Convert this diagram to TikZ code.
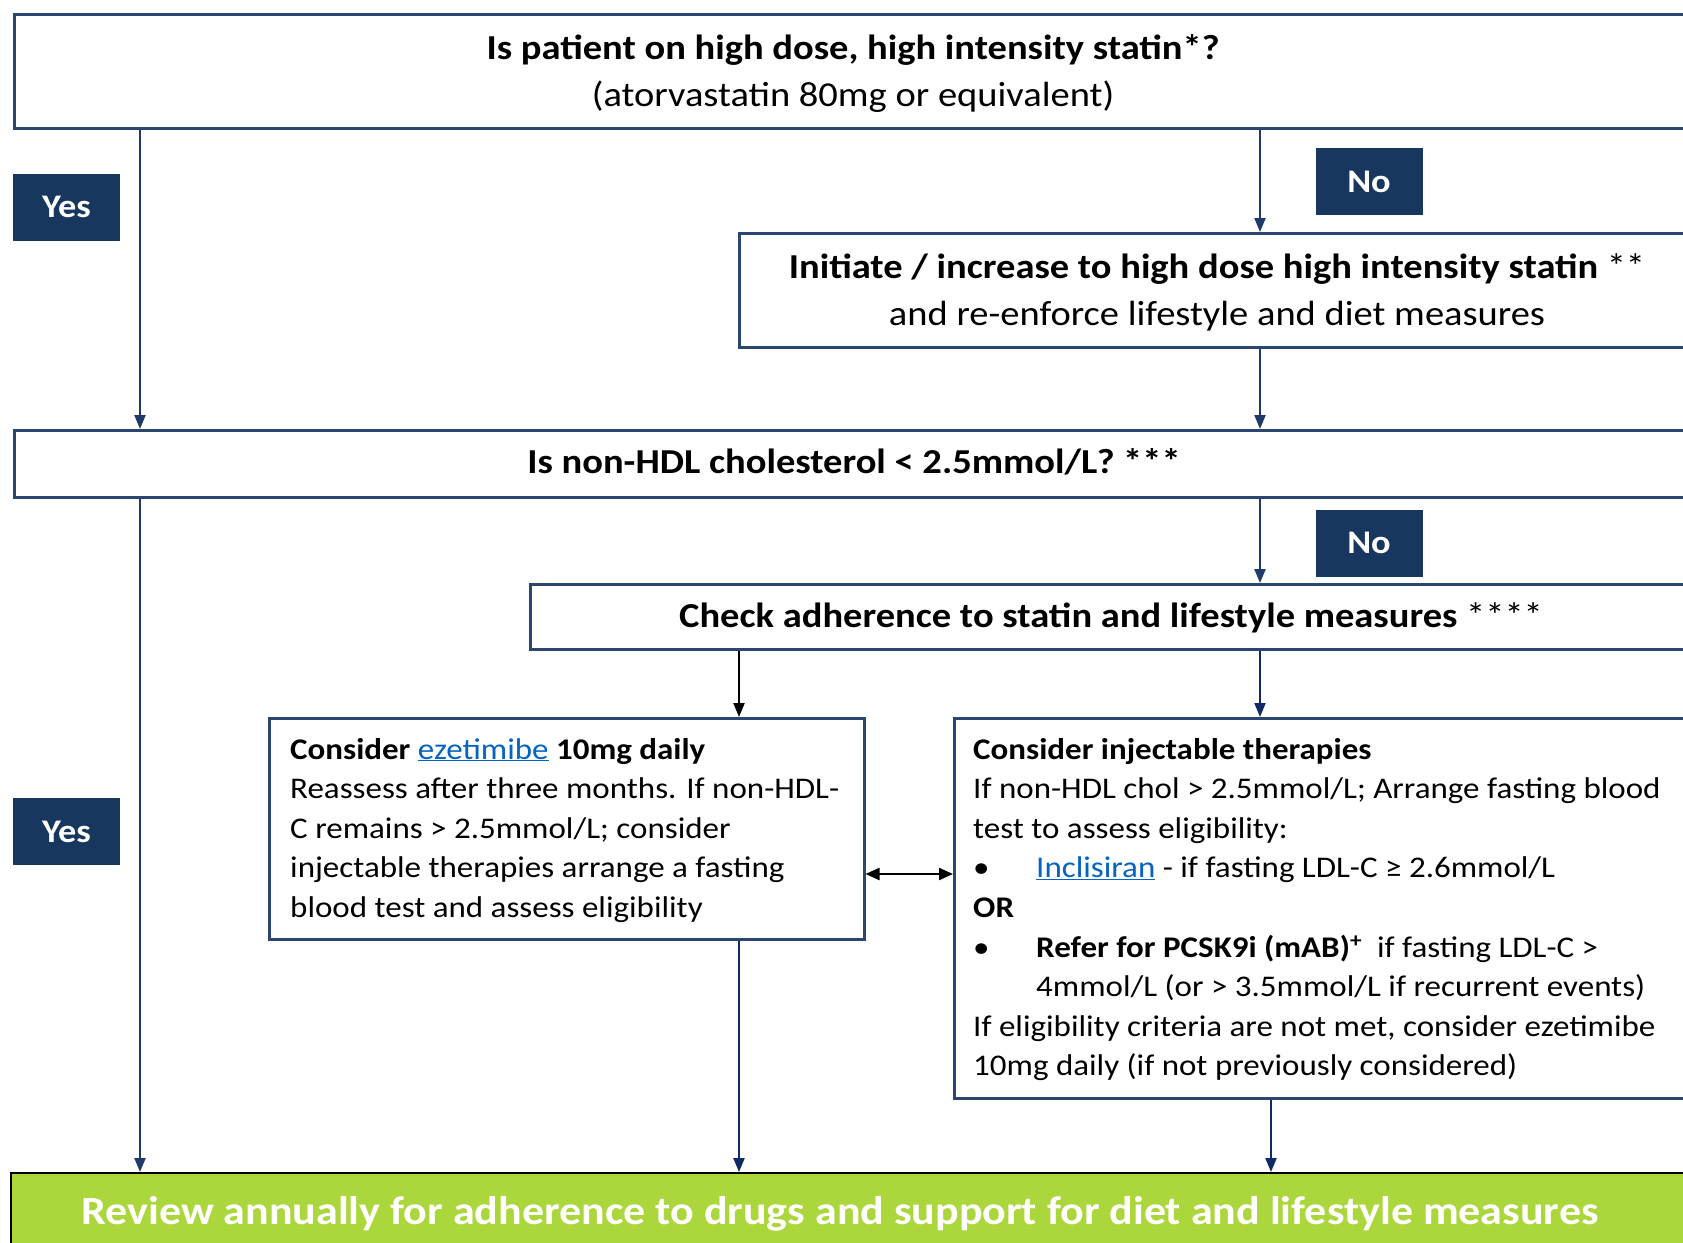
\documentclass[tikz,border=0pt]{standalone}
\usepackage{fontspec}
\setmainfont{Carlito}[FakeStretch=1.1]
\usetikzlibrary{arrows.meta}
\definecolor{navy}{HTML}{17375E}
\definecolor{boxline}{HTML}{2B4673}
\definecolor{arrnavy}{HTML}{1F3A6B}
\definecolor{arrdeep}{HTML}{0F2A66}
\definecolor{lime}{HTML}{ABD63C}
\definecolor{link}{HTML}{0563C1}
\newcommand{\ttl}{\fontsize{35}{42}\selectfont\bfseries}
\newcommand{\ttlr}{\fontsize{35}{42}\selectfont}
\newcommand{\bdy}{\fontsize{30}{36}\selectfont}
\newcommand{\lnk}[1]{\textcolor{link}{\underline{#1}}}
\tikzset{
  panel/.style={draw=boxline, line width=2.5pt, fill=white, inner sep=0pt, anchor=north west},
  tag/.style={fill=navy, text=white, inner sep=0pt, minimum width=107pt, minimum height=67pt, font=\fontsize{33}{38}\selectfont\bfseries},
  arr/.style={-{Triangle[length=14pt,width=11pt]}, line width=2.2pt, draw=arrnavy},
  blk/.style={-{Triangle[length=14pt,width=11pt]}, line width=2.2pt, draw=black},
  dbl/.style={{Triangle[length=14pt,width=12pt]}-{Triangle[length=14pt,width=12pt]}, line width=2.2pt, draw=black},
  txt/.style={inner sep=0pt, anchor=base},
  ltxt/.style={inner sep=0pt, anchor=base west},
}
\begin{document}
\begin{tikzpicture}[x=1pt,y=-1pt]
\useasboundingbox (0,0) rectangle (1683,1242);
\clip (0,0) rectangle (1683,1242);
\fill[white] (0,0) rectangle (1683,1242);

% boxes
\node[panel, minimum width=1690pt, minimum height=114pt] (top) at (13,13) {};
\node[panel, minimum width=960pt, minimum height=114pt] (b2) at (738,232) {};
\node[panel, minimum width=1690pt, minimum height=67pt] (b3) at (13,429) {};
\node[panel, minimum width=1170pt, minimum height=65pt] (b4) at (529,583) {};
\node[panel, minimum width=595pt, minimum height=221pt] (eze) at (268,717) {};
\node[panel, minimum width=750pt, minimum height=380pt] (inj) at (953,717) {};
\node[draw=black, line width=2pt, fill=lime, inner sep=0pt, anchor=north west, minimum width=1690pt, minimum height=100pt] (green) at (10,1172) {};

% labels
\node[tag] (yes1) at (66.5,207) {Yes};
\node[tag] (yes2) at (66.5,831.5) {Yes};
\node[tag] (no1) at (1369,181.5) {No};
\node[tag] (no2) at (1369,543) {No};

% texts
\node[txt] (t1a) at (853,59) {\ttl Is patient on high dose, high intensity statin*?};
\node[txt] (t1b) at (853,106) {\ttlr (atorvastatin 80mg or equivalent)};
\node[txt] (t2a) at (1217,278) {\ttl Initiate / increase to high dose high intensity statin \mdseries**};
\node[txt] (t2b) at (1217,325) {\ttlr and re-enforce lifestyle and diet measures};
\node[txt] (t3) at (854,473) {\ttl Is non-HDL cholesterol < 2.5mmol/L? ***};
\node[txt] (t4) at (1111,627) {\ttl Check adherence to statin and lifestyle measures \mdseries****};

\node[ltxt] (e1) at (290,759) {\bdy\bfseries Consider \mdseries\lnk{ezetimibe} \bfseries 10mg daily};
\node[ltxt] (e2) at (290,798.6) {\bdy Reassess after three months. If non-HDL-};
\node[ltxt] (e3) at (290,838.2) {\bdy C remains > 2.5mmol/L; consider};
\node[ltxt] (e4) at (290,877.8) {\bdy injectable therapies arrange a fasting};
\node[ltxt] (e5) at (290,917.4) {\bdy blood test and assess eligibility};

\node[ltxt] (i1) at (973,759) {\bdy\bfseries Consider injectable therapies};
\node[ltxt] (i2) at (973,798.6) {\bdy If non-HDL chol > 2.5mmol/L; Arrange fasting blood};
\node[ltxt] (i3) at (973,838.2) {\bdy test to assess eligibility:};
\node[ltxt] (i4b) at (973,877.8) {\bdy\textbullet};
\node[ltxt] (i4) at (1036,877.8) {\bdy \lnk{Inclisiran} - if fasting LDL-C ≥ 2.6mmol/L};
\node[ltxt] (i5) at (973,917.4) {\bdy\bfseries OR};
\node[ltxt] (i6b) at (973,957) {\bdy\textbullet};
\node[ltxt] (i6) at (1036,957) {\bdy \textbf{Refer for PCSK9i (mAB)\textsuperscript{+}}\ \ if fasting LDL-C >};
\node[ltxt] (i7) at (1036,996.6) {\bdy 4mmol/L (or > 3.5mmol/L if recurrent events)};
\node[ltxt] (i8) at (973,1036.2) {\bdy If eligibility criteria are not met, consider ezetimibe};
\node[ltxt] (i9) at (973,1075.8) {\bdy 10mg daily (if not previously considered)};

\node[txt, text=white] (g1) at (840,1224) {\fontsize{40}{46}\selectfont\bfseries Review annually for adherence to drugs and support for diet and lifestyle measures};

% connectors
\coordinate (xl) at (140,0);
\coordinate (xr) at (1260,0);
\coordinate (xm) at (739,0);
\coordinate (xi) at (1271,0);
\coordinate (yd) at (0,874);
\draw[arr] (top.south -| xl) -- (b3.north -| xl);
\draw[arr] (b3.south -| xl) -- (green.north -| xl);
\draw[arr] (top.south -| xr) -- (b2.north -| xr);
\draw[arr] (b2.south -| xr) -- (b3.north -| xr);
\draw[arr] (b3.south -| xr) -- (b4.north -| xr);
\draw[arr, draw=arrdeep] (b4.south -| xr) -- (inj.north -| xr);
\draw[blk] (b4.south -| xm) -- (eze.north -| xm);
\draw[arr, draw=arrdeep] (eze.south -| xm) -- (green.north -| xm);
\draw[arr, draw=arrdeep] (inj.south -| xi) -- (green.north -| xi);
\draw[dbl] (eze.east |- yd) -- (inj.west |- yd);
\end{tikzpicture}
\end{document}
